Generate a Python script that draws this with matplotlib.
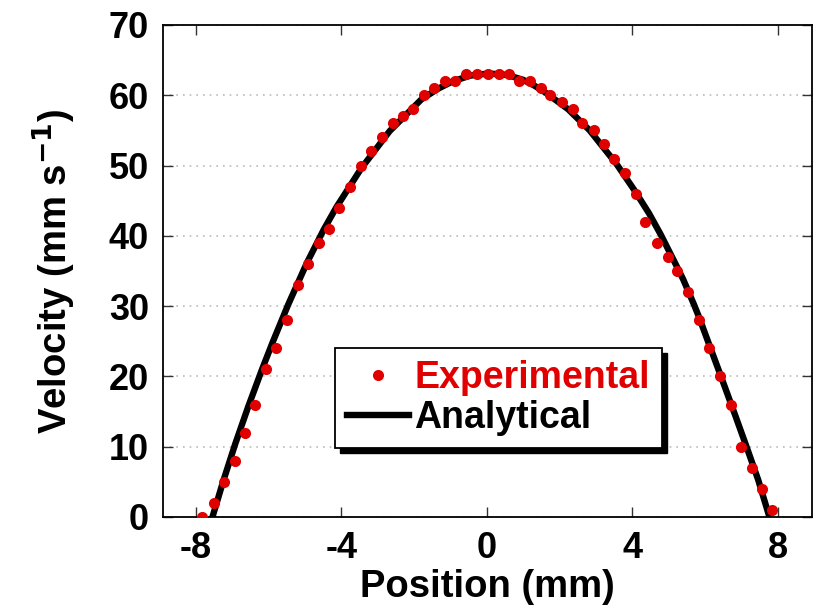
import matplotlib as mpl
import matplotlib.pyplot as plt
import numpy as np
from matplotlib.patches import Rectangle

mpl.rcParams["font.family"] = ["Liberation Sans", "DejaVu Sans"]
mpl.rcParams["font.weight"] = "bold"
mpl.rcParams["axes.labelweight"] = "bold"
mpl.rcParams["axes.unicode_minus"] = False
mpl.rcParams["mathtext.default"] = "bf"

# experimental velocity profile (mm, mm/s)
pos_exp = [-7.82, -7.51, -7.22, -6.92, -6.65, -6.36, -6.08, -5.80, -5.50, -5.20,
           -4.91, -4.62, -4.33, -4.05, -3.76, -3.47, -3.17, -2.88, -2.59, -2.31,
           -2.02, -1.72, -1.44, -1.16, -0.87, -0.58, -0.27, 0.03, 0.33, 0.60,
           0.88, 1.18, 1.48, 1.75, 2.06, 2.36, 2.63, 2.94, 3.21, 3.51,
           3.79, 4.09, 4.36, 4.67, 4.97, 5.24, 5.54, 5.83, 6.11, 6.40,
           6.70, 6.99, 7.28, 7.57, 7.85]
vel_exp = [0, 2, 5, 8, 12, 16, 21, 24, 28, 33,
           36, 39, 41, 44, 47, 50, 52, 54, 56, 57,
           58, 60, 61, 62, 62, 63, 63, 63, 63, 63,
           62, 62, 61, 60, 59, 58, 56, 55, 53, 51,
           49, 46, 42, 39, 37, 35, 32, 28, 24, 20,
           16, 10, 7, 4, 1]

# analytical profile
pos_ana = [-7.54, -7.25, -6.92, -6.55, -6.17, -5.89, -5.46, -4.94, -4.48, -4.13,
           -3.45, -2.67, -1.80, -1.35, -0.93, -0.45, 0.05, 0.55, 1.00, 1.30,
           1.64, 2.24, 2.83, 3.57, 4.07, 4.46, 4.78, 5.17, 5.40, 5.69,
           5.83, 6.08, 6.41, 6.82, 7.14, 7.46, 7.77]
vel_ana = [0, 5.0, 10.3, 15.8, 21.1, 24.8, 30.2, 36.2, 40.9, 44.1,
           49.6, 54.9, 59.4, 60.9, 62.0, 62.8, 63.1, 62.9, 62.2, 61.4,
           60.3, 58.0, 55.0, 50.2, 46.4, 43.2, 40.2, 36.2, 33.8, 30.3,
           28.5, 25.0, 20.4, 14.6, 10.0, 5.3, 0]

fig = plt.figure(figsize=(8.19, 6.05), dpi=100)
ax = fig.add_axes([0.199, 0.1455, 0.792, 0.8132])

ax.plot(pos_ana, vel_ana, color="black", lw=4.6, label="Analytical",
        solid_joinstyle="round", zorder=2)
ax.plot(pos_exp, vel_exp, "o", color="#e00000", ms=8, mec="none",
        label="Experimental", zorder=3)

ax.set_xlim(-8.9, 8.93)
ax.set_ylim(0, 70)
ax.set_xticks([-8, -4, 0, 4, 8])
ax.set_yticks(np.arange(0, 71, 10))
ax.yaxis.grid(True, ls=(0, (1, 3)), color="#bbbbbb", lw=1.2)
ax.set_axisbelow(True)

ax.tick_params(direction="in", top=True, right=True, length=7, width=1,
               color="#333333", labelsize=26, pad=10)
for s in ax.spines.values():
    s.set_linewidth(1.3)

ax.set_xlabel("Position (mm)", fontsize=27.5, labelpad=2)
ax.set_ylabel("Velocity (mm s$^{-1}$)", fontsize=27.5, labelpad=22)

h, l = ax.get_legend_handles_labels()
leg = ax.legend(h[::-1], l[::-1], loc="upper left", bbox_to_anchor=(0.265, 0.3435),
                borderaxespad=0, fontsize=27, handlelength=1.65,
                handletextpad=0.15, labelspacing=0.1, borderpad=0.32,
                fancybox=False, edgecolor="black", facecolor="white",
                framealpha=1)
leg.get_frame().set_linewidth(1.3)
leg.get_texts()[0].set_color("#e00000")

# solid black drop shadow under the legend box
fig.canvas.draw()
bb = leg.get_window_extent()
shadow = Rectangle((bb.x0 + 5, bb.y0 - 5), bb.width, bb.height,
                   transform=None, color="black", zorder=4.9, clip_on=False)
ax.add_artist(shadow)

plt.savefig("out.png", dpi=100, facecolor="w")
